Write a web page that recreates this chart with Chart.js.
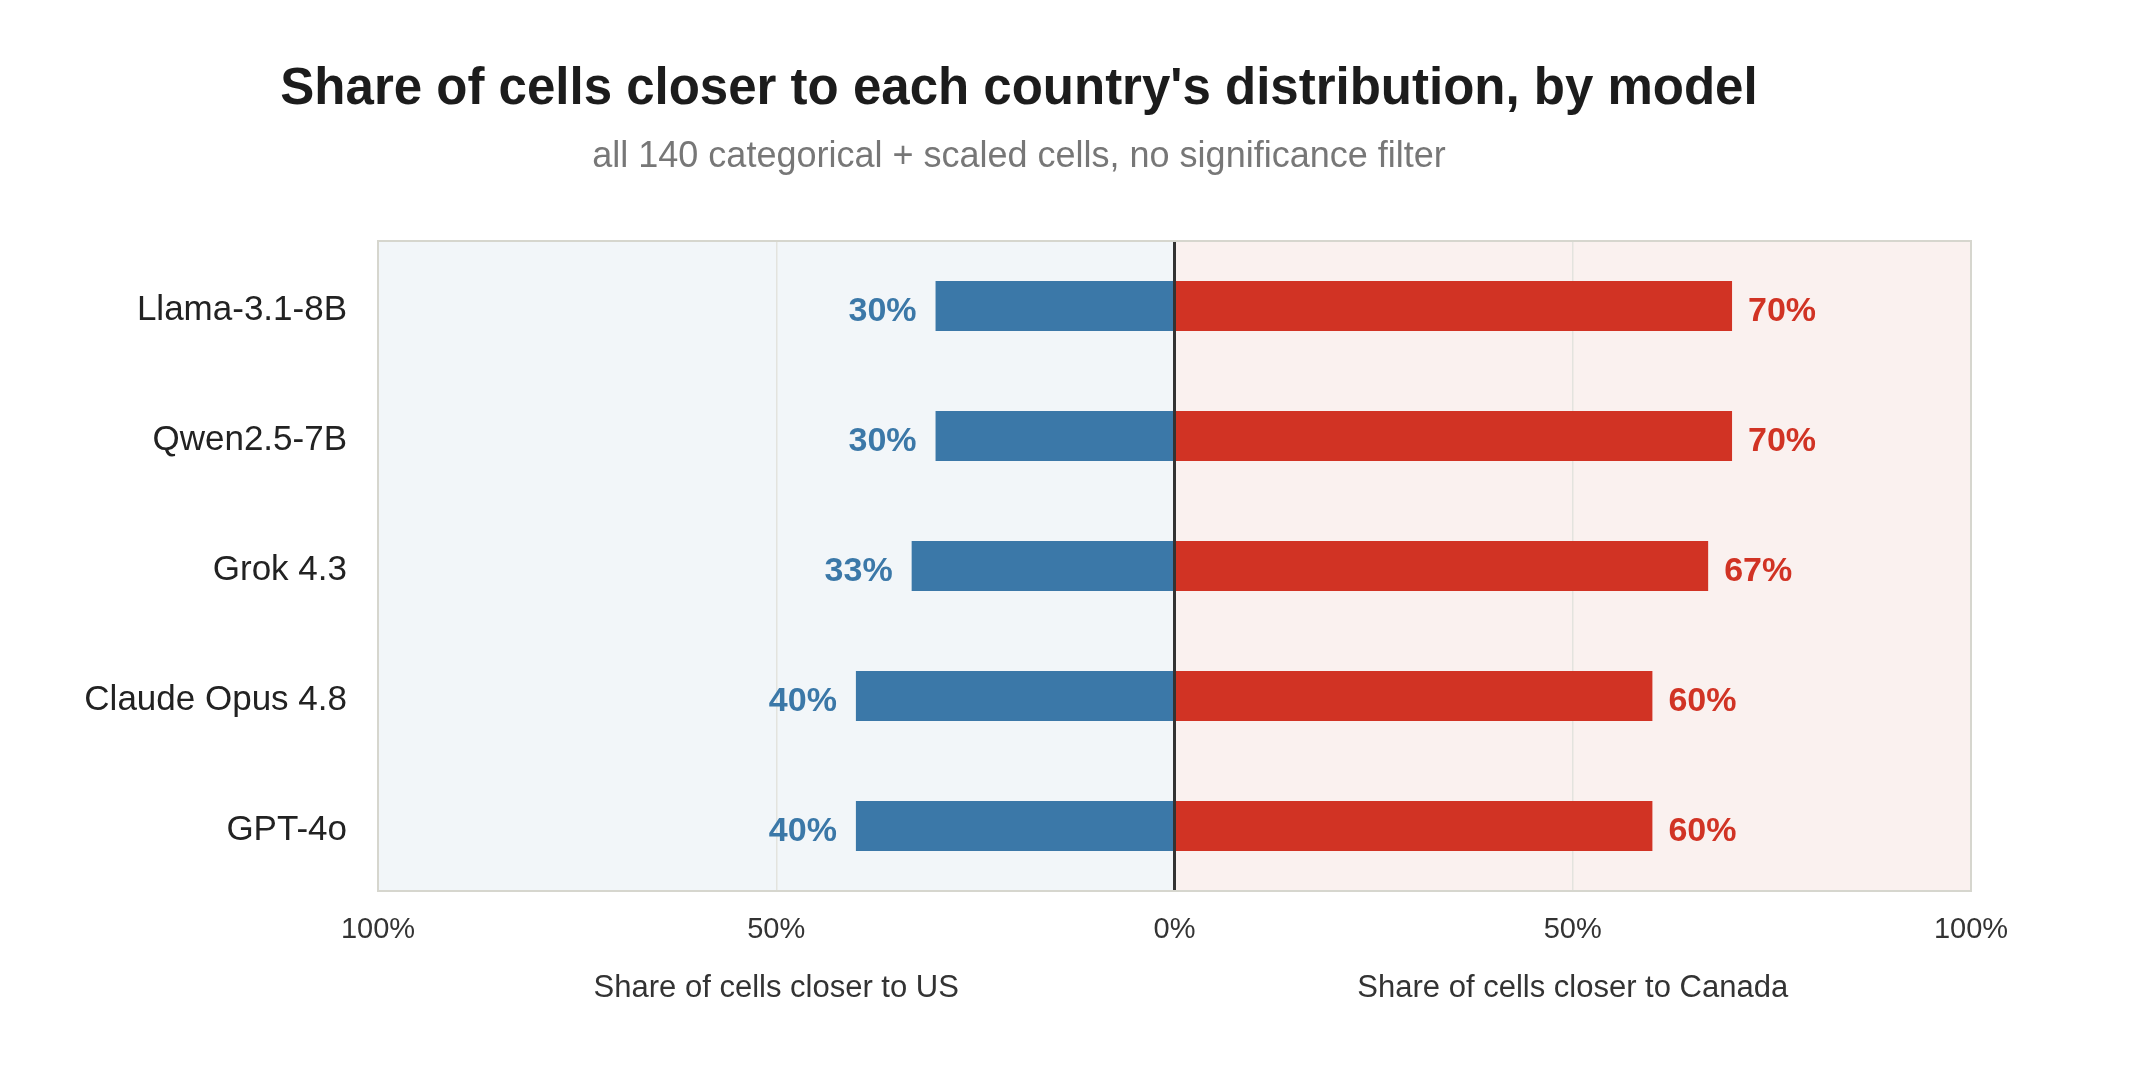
<!DOCTYPE html>
<html><head><meta charset="utf-8">
<script src="https://cdn.jsdelivr.net/npm/chart.js@4.4.1/dist/chart.umd.min.js"></script>
<style>html,body{margin:0;padding:0;background:#fff;} #wrap{width:2142px;height:1082px;position:relative;}</style>
</head><body><div id="wrap"><canvas id="c" width="2142" height="1082"></canvas></div>
<script>
const models = ['Llama-3.1-8B','Qwen2.5-7B','Grok 4.3','Claude Opus 4.8','GPT-4o'];
const usShare = [30,30,33,40,40];
const canadaShare = [70,70,67,60,60];
const xTicks = [-100,-50,0,50,100];
const titleText = "Share of cells closer to each country's distribution, by model";
const subtitleText = 'all 140 categorical + scaled cells, no significance filter';
const leftAxisTitle = 'Share of cells closer to US';
const rightAxisTitle = 'Share of cells closer to Canada';

const FONT = '"Liberation Sans", Arial, Helvetica, sans-serif';
const BLUE = '#3B78A8', RED = '#D13324';

const deco = {
  id: 'deco',
  beforeDraw(chart) {
    const {ctx, chartArea: a, scales: {x}} = chart;
    ctx.save();
    ctx.fillStyle = '#fff';
    ctx.fillRect(0, 0, chart.width, chart.height);
    const z = x.getPixelForValue(0);
    ctx.fillStyle = '#F2F6F9';
    ctx.fillRect(a.left, a.top, z - a.left, a.bottom - a.top);
    ctx.fillStyle = '#FAF1EF';
    ctx.fillRect(z, a.top, a.right - z, a.bottom - a.top);
    ctx.restore();
  },
  beforeDatasetsDraw(chart) {
    const {ctx, chartArea: a} = chart;
    ctx.save();
    ctx.strokeStyle = '#D6D6CE';
    ctx.lineWidth = 2;
    ctx.strokeRect(a.left, a.top, a.right - a.left, a.bottom - a.top);
    ctx.restore();
  },
  afterDatasetsDraw(chart) {
    const {ctx} = chart;
    ctx.save();
    ctx.font = 'bold 34px ' + FONT;
    ctx.textBaseline = 'middle';
    chart.getDatasetMeta(0).data.forEach((bar, i) => {
      ctx.fillStyle = BLUE; ctx.textAlign = 'right';
      ctx.fillText(usShare[i] + '%', bar.x - 19, bar.y + 6);
    });
    chart.getDatasetMeta(1).data.forEach((bar, i) => {
      ctx.fillStyle = RED; ctx.textAlign = 'left';
      ctx.fillText(canadaShare[i] + '%', bar.x + 16, bar.y + 6);
    });
    ctx.restore();
  },
  afterDraw(chart) {
    const {ctx, scales: {x}} = chart;
    ctx.save();
    ctx.textAlign = 'center';
    ctx.textBaseline = 'middle';
    ctx.fillStyle = '#1c1c1c';
    ctx.font = 'bold 51px ' + FONT;
    ctx.fillText(titleText, 1019, 90);
    ctx.fillStyle = '#777';
    ctx.font = '36px ' + FONT;
    ctx.fillText(subtitleText, 1019, 157);
    ctx.fillStyle = '#333';
    ctx.font = '31px ' + FONT;
    ctx.fillText(leftAxisTitle, x.getPixelForValue(-50), 988);
    ctx.fillText(rightAxisTitle, x.getPixelForValue(50), 988);
    ctx.restore();
  }
};

new Chart(document.getElementById('c'), {
  type: 'bar',
  data: {
    labels: models,
    datasets: [
      {label: 'US', data: usShare.map(v => -v), backgroundColor: BLUE, barPercentage: 0.385, categoryPercentage: 1},
      {label: 'Canada', data: canadaShare, backgroundColor: RED, barPercentage: 0.385, categoryPercentage: 1}
    ]
  },
  options: {
    indexAxis: 'y',
    responsive: false,
    animation: false,
    devicePixelRatio: 1,
    layout: {padding: {top: 241, right: 171, bottom: 0, left: 0}},
    plugins: {legend: {display: false}, tooltip: {enabled: false}, title: {display: false}},
    scales: {
      x: {
        type: 'linear', min: -100, max: 100, stacked: true,
        afterFit(s) { s.height = 191; },
        afterBuildTicks(s) { s.ticks = xTicks.map(v => ({value: v})); },
        ticks: {
          callback: v => Math.abs(v) + '%',
          font: {family: FONT, size: 29}, color: '#333', padding: 22, maxRotation: 0
        },
        grid: {
          drawTicks: false,
          color: c => c.tick && c.tick.value === 0 ? '#333' : (Math.abs(c.tick ? c.tick.value : 0) === 100 ? 'rgba(0,0,0,0)' : '#E3E3DE'),
          lineWidth: c => c.tick && c.tick.value === 0 ? 3 : 1.5
        },
        border: {display: false}
      },
      y: {
        type: 'category', stacked: true,
        afterFit(s) { s.width = 378; },
        ticks: {font: {family: FONT, size: 35}, color: '#222', padding: 31, labelOffset: 4},
        grid: {display: false, drawTicks: false},
        border: {display: false}
      }
    }
  },
  plugins: [deco]
});
</script></body></html>
